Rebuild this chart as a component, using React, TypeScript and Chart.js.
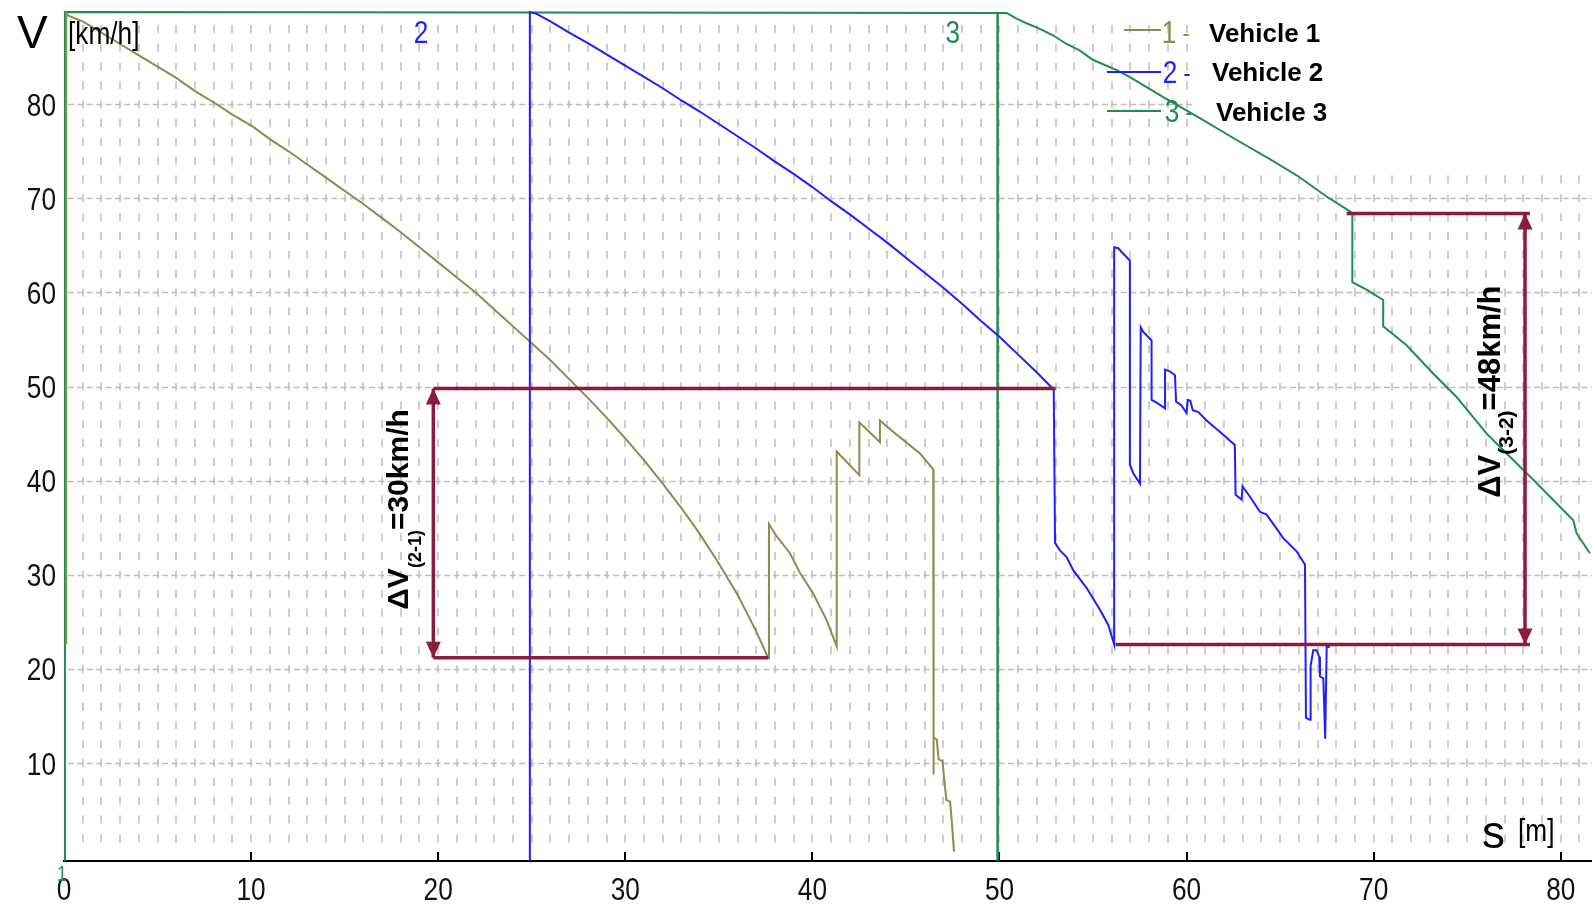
import React, { useEffect, useRef } from 'react';
import { Chart, registerables } from 'chart.js';

Chart.register(...registerables);

// ---------- axes ----------
const xAxisMin = 0;
const xAxisMax = 81.67;
const yAxisMin = -0.4;
const yAxisMax = 89.8;
const xTickStep = 10;
const yTickStep = 10;

// ---------- series (s in m, V in km/h) ----------
const vehicle1S = [0.12, 0.12, 0.23, 1, 2, 3, 4, 5, 6, 7,
  8.16, 9, 10.12, 11, 12, 13, 14, 15, 16, 17,
  18, 19, 20, 21, 22, 23, 24, 25, 26, 27,
  28, 29, 30, 31, 32, 33, 34, 35, 36, 37,
  37.64, 37.68, 38.09, 38.8, 39.34, 40.05, 40.76, 41.3, 41.3, 42.51,
  42.51, 43.61, 43.61, 44.2, 45.0, 45.75, 46.46, 46.46, 46.5, 46.65,
  46.75, 46.95, 47.16, 47.36, 47.46, 47.57];
const vehicle1V = [22.6, 89.7, 89.4, 88.8, 87.6, 86.4, 85.2, 84.0, 82.8, 81.4,
  80.0, 78.9, 77.6, 76.3, 75.0, 73.6, 72.2, 70.8, 69.4, 67.9,
  66.4, 64.8, 63.2, 61.6, 60.0, 58.2, 56.4, 54.6, 52.8, 50.8,
  48.8, 46.7, 44.5, 42.2, 39.7, 37.1, 34.3, 31.2, 27.9, 24.0,
  21.15, 35.4, 34.1, 32.3, 30.2, 28.0, 25.2, 22.4, 43.1, 40.6,
  46.2, 44.1, 46.4, 45.4, 44.1, 42.9, 41.2, 8.8, 12.7, 12.5,
  10.4, 10.2, 6.1, 5.9, 3.6, 0.6];

const vehicle2S = [24.9, 24.9, 25.26, 26, 27, 28, 29, 30, 31, 32,
  33, 34, 35, 36, 37, 38, 39, 40, 41, 42,
  43, 44, 45, 46, 47, 48, 49, 50, 51, 52,
  52.9, 52.97, 53.23, 53.59, 53.94, 54.66, 55.37, 55.81, 56.13, 56.13,
  56.35, 56.53, 56.97, 56.97, 57.15, 57.51, 57.55, 57.69, 58.13, 58.13,
  58.4, 58.85, 58.85, 59.12, 59.38, 59.44, 59.73, 60.0, 60.06, 60.2,
  60.33, 60.63, 61.07, 61.78, 62.58, 62.62, 62.94, 62.99, 63.39, 63.92,
  64.28, 65.17, 65.88, 66.33, 66.38, 66.6, 66.63, 66.77, 66.95, 67.09,
  67.13, 67.31, 67.41, 67.49, 67.66];
const vehicle2V = [-0.4, 89.8, 89.6, 88.8, 87.6, 86.5, 85.3, 84.1, 82.9, 81.7,
  80.4, 79.2, 77.9, 76.6, 75.3, 73.9, 72.6, 71.2, 69.7, 68.3,
  66.8, 65.3, 63.7, 62.1, 60.5, 58.8, 57.0, 55.3, 53.4, 51.5,
  49.7, 33.4, 32.6, 31.9, 30.5, 28.6, 26.3, 24.7, 22.6, 64.8,
  64.7, 64.3, 63.4, 41.7, 40.8, 39.7, 56.3, 55.8, 54.9, 48.6,
  48.3, 47.7, 51.8, 51.6, 51.2, 48.4, 48.0, 47.2, 48.6, 48.5,
  47.5, 47.3, 46.4, 45.2, 43.8, 38.5, 38.0, 39.4, 38.3, 36.7,
  36.4, 33.9, 32.5, 31.1, 14.8, 14.6, 20.3, 22.0, 22.0, 21.3,
  19.2, 19.0, 12.6, 22.4, 22.3];

const vehicle3S = [0.05, 0.05, 50.38, 50.92, 51.45, 52.16, 52.88, 53.59, 54.3, 55.01,
  56.3, 56.95, 58.8, 60.64, 62.68, 64.52, 66.0, 67.48, 68.75, 68.86,
  68.86, 69.62, 70.51, 70.51, 71.76, 73.18, 74.43, 76.04, 77.46, 78.53,
  80.67, 80.85, 81.56];
const vehicle3V = [-0.4, 89.8, 89.7, 89.1, 88.6, 88.0, 87.3, 86.4, 85.7, 84.7,
  83.6, 82.9, 80.7, 78.6, 76.2, 74.1, 72.3, 70.2, 68.6, 68.4,
  61.1, 60.3, 59.2, 56.4, 54.4, 51.4, 48.9, 45.0, 42.2, 40.1,
  35.8, 34.4, 32.3];

// vertical start marker of vehicle 3 (s = 50 m)
const marker3S = [49.9, 49.9];
const marker3V = [-0.4, 89.8];

const seriesNames = ['Vehicle 1', 'Vehicle 2', 'Vehicle 3'];
const seriesNumbers = ['1', '2', '3'];
const markerLabels = ['2', '3'];
const markerLabelS = [19.08, 47.5];

// ---------- ΔV brackets ----------
const bracketS = [19.74, 78.09];
const bracketHigh = [49.8, 68.4];
const bracketLow = [21.2, 22.6];
const highFromS = [19.74, 68.56];
const highToS = [53.0, 78.35];
const lowFromS = [19.74, 56.2];
const lowToS = [37.64, 78.35];
const bracketMain = ['ΔV', 'ΔV'];
const bracketSub = ['(2-1)', '(3-2)'];
const bracketRest = ['=30km/h', '=48km/h'];
const bracketLabelS = [18.39, 76.75];
const bracketLabelV = [26.3, 38.2];

// ---------- styles ----------
const COLORS = ['#8c8c4e', '#1f1fff', '#1f8c50'];
const MAROON = '#8c1c3c';
const GRID = '#bdbdbd';
const SANS = "'Liberation Sans', Arial, sans-serif";
const NARROW_SCALE = 0.82;
const bracketFont = [30, 31];
const bracketSubFont = [18, 21];
const legendRows = [
  { y: 30, x0: 1124, numX: 1169, numBase: 43, labelX: 1209, labelBase: 42 },
  { y: 72, x0: 1107, numX: 1170, numBase: 83, labelX: 1212, labelBase: 81 },
  { y: 111, x0: 1107, numX: 1172, numBase: 122, labelX: 1216, labelBase: 121 },
];

const pts = (xs: number[], ys: number[]) => xs.map((x, i) => ({ x, y: ys[i] }));

const lineDs = (label: string, data: any[], color: string, width: number, order: number) => ({
  label,
  data,
  borderColor: color,
  backgroundColor: color,
  borderWidth: width,
  pointRadius: 0,
  pointHoverRadius: 0,
  showLine: true,
  tension: 0,
  fill: false,
  order,
  clip: 6,
});

// thin condensed text (the original uses a narrow sans)
function narrow(ctx: CanvasRenderingContext2D, text: string, x: number, y: number, align: CanvasTextAlign, size: number, color: string) {
  ctx.save();
  ctx.translate(x, y);
  ctx.scale(NARROW_SCALE, 1);
  ctx.font = `${size}px ${SANS}`;
  ctx.fillStyle = color;
  ctx.textAlign = align;
  ctx.textBaseline = 'alphabetic';
  ctx.fillText(text, 0, 0);
  ctx.restore();
}

const decorPlugin = {
  id: 'decor',
  beforeDatasetsDraw(chart: any) {
    const { ctx, chartArea: a, scales } = chart;
    const x = scales.x;
    const y = scales.y;
    ctx.save();
    // minor vertical grid (short dashes every 1 m)
    ctx.strokeStyle = GRID;
    ctx.lineWidth = 1.5;
    ctx.beginPath();
    for (let s = 1; s <= Math.floor(x.max); s++) {
      const px = Math.round(x.getPixelForValue(s));
      for (let v = 2; v < y.max; v += 2) {
        const py = y.getPixelForValue(v);
        ctx.moveTo(px, py - 4);
        ctx.lineTo(px, py + 4);
      }
    }
    ctx.stroke();
    // major horizontal grid
    ctx.setLineDash([6, 3.4]);
    ctx.beginPath();
    for (let v = yTickStep; v < y.max; v += yTickStep) {
      const py = Math.round(y.getPixelForValue(v)) + 0.5;
      ctx.moveTo(a.left + 4, py);
      ctx.lineTo(a.right, py);
    }
    ctx.stroke();
    ctx.setLineDash([]);
    // legend background
    ctx.fillStyle = '#ffffff';
    ctx.fillRect(1192, 17, 400, 148);
    // inward ticks on the s axis
    ctx.strokeStyle = '#000';
    ctx.lineWidth = 2;
    ctx.beginPath();
    for (let s = xTickStep; s <= x.max; s += xTickStep) {
      const px = Math.round(x.getPixelForValue(s));
      ctx.moveTo(px, a.bottom);
      ctx.lineTo(px, a.bottom - 9);
    }
    ctx.stroke();
    ctx.restore();
  },
  afterDatasetsDraw(chart: any) {
    const { ctx, scales, chartArea: a } = chart;
    const x = scales.x;
    const y = scales.y;
    ctx.save();
    // tick labels (from the scales' own ticks)
    x.ticks.forEach((t: any) => {
      narrow(ctx, String(t.value), x.getPixelForValue(t.value), 900, 'center', 32, '#111');
    });
    y.ticks.forEach((t: any) => {
      if (t.value === 0) return;
      narrow(ctx, String(t.value), a.left - 8, y.getPixelForValue(t.value) + 11.5, 'right', 32, '#111');
    });
    // arrowheads
    ctx.fillStyle = MAROON;
    bracketS.forEach((s, i) => {
      const px = x.getPixelForValue(s);
      const pt = y.getPixelForValue(bracketHigh[i]);
      const pb = y.getPixelForValue(bracketLow[i]);
      ctx.beginPath();
      ctx.moveTo(px, pt);
      ctx.lineTo(px - 7.5, pt + 16);
      ctx.lineTo(px + 7.5, pt + 16);
      ctx.closePath();
      ctx.fill();
      ctx.beginPath();
      ctx.moveTo(px, pb);
      ctx.lineTo(px - 7.5, pb - 16);
      ctx.lineTo(px + 7.5, pb - 16);
      ctx.closePath();
      ctx.fill();
    });
    // rotated ΔV labels
    ctx.fillStyle = '#000';
    ctx.textBaseline = 'alphabetic';
    ctx.textAlign = 'left';
    bracketMain.forEach((main, i) => {
      const bx = x.getPixelForValue(bracketLabelS[i]);
      const by = y.getPixelForValue(bracketLabelV[i]);
      ctx.save();
      ctx.translate(bx, by);
      ctx.rotate(-Math.PI / 2);
      ctx.font = `bold ${bracketFont[i]}px ${SANS}`;
      ctx.fillText(main, 0, 0);
      let off = ctx.measureText(main).width;
      ctx.font = `bold ${bracketSubFont[i]}px ${SANS}`;
      ctx.fillText(bracketSub[i], off, 13);
      off += ctx.measureText(bracketSub[i]).width;
      ctx.font = `bold ${bracketFont[i]}px ${SANS}`;
      ctx.fillText(bracketRest[i], off, 0);
      ctx.restore();
    });
    // legend
    legendRows.forEach((r, i) => {
      ctx.strokeStyle = COLORS[i];
      ctx.lineWidth = 2;
      ctx.beginPath();
      ctx.moveTo(r.x0, r.y);
      ctx.lineTo(1161, r.y);
      ctx.stroke();
      narrow(ctx, seriesNumbers[i], r.numX, r.numBase, 'center', 32, COLORS[i]);
      narrow(ctx, '-', r.numX + 17, r.numBase - 1, 'center', 26, COLORS[i]);
      ctx.fillStyle = '#000';
      ctx.font = `bold 26px ${SANS}`;
      ctx.textAlign = 'left';
      ctx.textBaseline = 'alphabetic';
      ctx.fillText(seriesNames[i], r.labelX, r.labelBase);
    });
    // marker labels at top
    markerLabels.forEach((t, i) => {
      narrow(ctx, t, x.getPixelForValue(markerLabelS[i]), 43, 'center', 32, COLORS[i + 1]);
    });
    narrow(ctx, '1', 62, 881, 'center', 22, COLORS[2]);
    // axis titles
    ctx.fillStyle = '#000';
    ctx.textAlign = 'left';
    ctx.textBaseline = 'alphabetic';
    ctx.font = `46px ${SANS}`;
    ctx.fillText('V', 17, 48);
    ctx.fillText('s', 1482, 848);
    narrow(ctx, '[km/h]', 68, 44, 'left', 32, '#000');
    narrow(ctx, '[m]', 1518, 841, 'left', 32, '#000');
    ctx.restore();
  },
};

export default function App() {
  const ref = useRef<HTMLCanvasElement | null>(null);
  useEffect(() => {
    if (!ref.current) return;
    const datasets: any[] = [
      lineDs('Vehicle 1', pts(vehicle1S, vehicle1V), COLORS[0], 2, 3),
      lineDs('Vehicle 2', pts(vehicle2S, vehicle2V), COLORS[1], 2, 2),
      lineDs('Vehicle 3', pts(vehicle3S, vehicle3V), COLORS[2], 2, 4),
      lineDs('marker 3', pts(marker3S, marker3V), COLORS[2], 2.5, 4),
    ];
    bracketS.forEach((s, i) => {
      datasets.push(lineDs('high', [{ x: highFromS[i], y: bracketHigh[i] }, { x: highToS[i], y: bracketHigh[i] }], MAROON, 3.5, 0));
      datasets.push(lineDs('low', [{ x: lowFromS[i], y: bracketLow[i] }, { x: lowToS[i], y: bracketLow[i] }], MAROON, 3.5, 0));
      datasets.push(lineDs('arrow', [{ x: s, y: bracketLow[i] }, { x: s, y: bracketHigh[i] }], MAROON, 3.5, 0));
    });
    const chart = new Chart(ref.current, {
      type: 'scatter',
      data: { datasets },
      options: {
        responsive: false,
        animation: false,
        devicePixelRatio: 1,
        events: [],
        layout: { padding: { top: 12, left: 0, right: 0, bottom: 0 } },
        plugins: { legend: { display: false }, tooltip: { enabled: false } },
        scales: {
          x: {
            type: 'linear',
            min: xAxisMin,
            max: xAxisMax,
            grid: { display: false, drawTicks: false },
            border: { display: true, color: '#000', width: 2 },
            ticks: { stepSize: xTickStep, includeBounds: false, autoSkip: false, maxRotation: 0, display: false },
            afterFit: (s: any) => { s.height = 44; s.paddingLeft = 0; s.paddingRight = 0; s.paddingTop = 0; s.paddingBottom = 0; },
          },
          y: {
            type: 'linear',
            min: yAxisMin,
            max: yAxisMax,
            grid: { display: false, drawTicks: false },
            border: { display: false },
            ticks: { stepSize: yTickStep, includeBounds: false, display: false },
            afterFit: (s: any) => { s.width = 64; s.paddingLeft = 0; s.paddingRight = 0; s.paddingTop = 0; s.paddingBottom = 0; },
          },
        },
      },
      plugins: [decorPlugin],
    } as any);
    return () => chart.destroy();
  }, []);
  return (
    <div style={{ position: 'absolute', left: 0, top: 0, width: 1592, height: 905, background: '#fff' }}>
      <canvas ref={ref} width={1592} height={905} style={{ display: 'block', width: 1592, height: 905 }} />
    </div>
  );
}
